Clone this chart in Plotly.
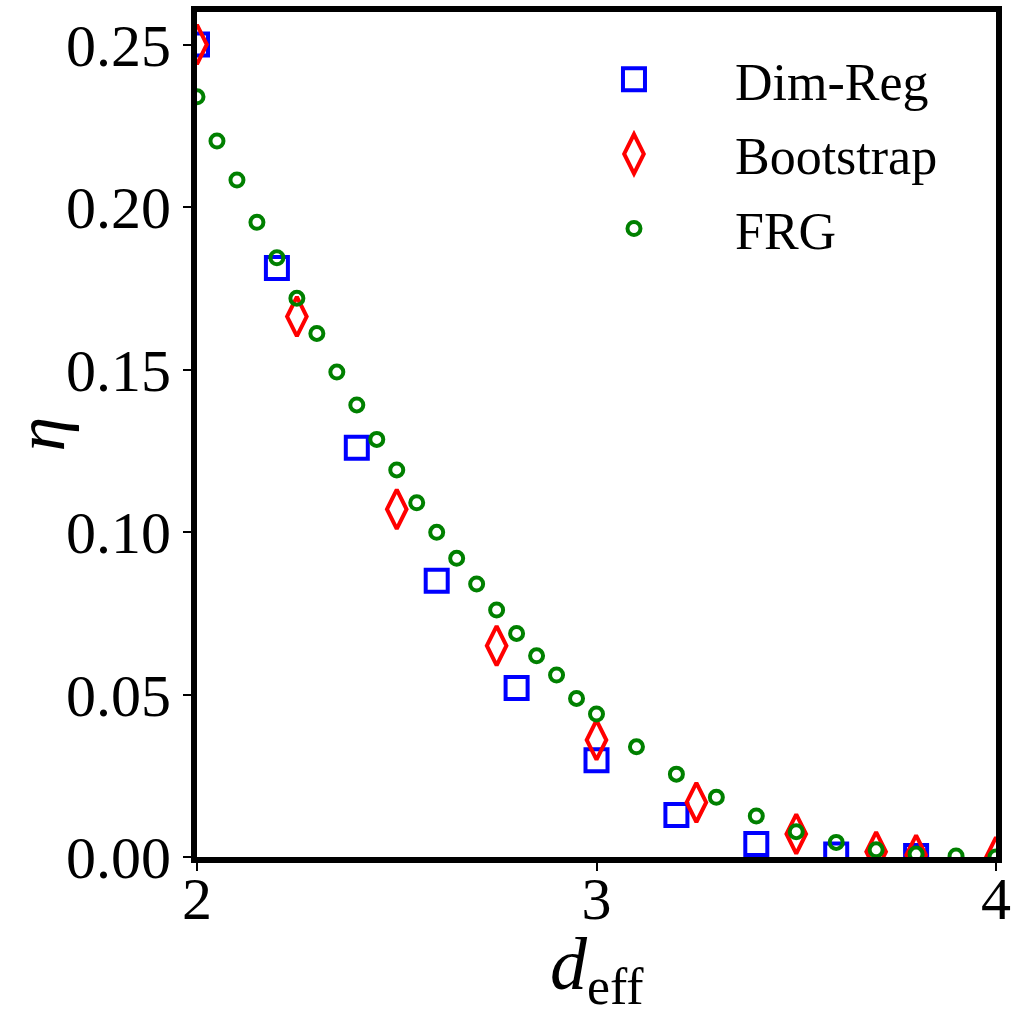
import plotly.graph_objects as go

# ---- data ----
dimreg_x = [2.0, 2.2, 2.4, 2.6, 2.8, 3.0, 3.2, 3.4, 3.6, 3.8]
dimreg_y = [0.250, 0.1812, 0.1259, 0.0850, 0.0520, 0.0298, 0.0129, 0.0040, 0.0008, 0.0003]

boot_x = [2.0, 2.25, 2.5, 2.75, 3.0, 3.25, 3.5, 3.7, 3.8, 4.0]
boot_y = [0.250, 0.1663, 0.1070, 0.0650, 0.0360, 0.0168, 0.0071, 0.0016, 0.0006, 0.0]

frg_x = [2.0, 2.05, 2.1, 2.15, 2.2, 2.25, 2.3, 2.35, 2.4, 2.45, 2.5, 2.55, 2.6, 2.65,
         2.7, 2.75, 2.8, 2.85, 2.9, 2.95, 3.0, 3.1, 3.2, 3.3, 3.4, 3.5, 3.6, 3.7, 3.8,
         3.9, 4.0]
frg_y = [0.2339, 0.2203, 0.2083, 0.1953, 0.1844, 0.1719, 0.1611, 0.1492, 0.1391, 0.1285,
         0.1191, 0.1090, 0.0999, 0.0919, 0.0840, 0.0760, 0.0688, 0.0619, 0.0560, 0.0488,
         0.0440, 0.0339, 0.0255, 0.0184, 0.0126, 0.0078, 0.0045, 0.0022, 0.0009, 0.0003,
         0.0]

x_ticks = [2, 3, 4]
x_ticktext = ["2", "3", "4"]
y_ticks = [0.0, 0.05, 0.10, 0.15, 0.20, 0.25]
y_ticktext = ["0.00", "0.05", "0.10", "0.15", "0.20", "0.25"]

FONT = "Liberation Serif"

fig = go.Figure()
fig.add_trace(go.Scatter(
    x=dimreg_x, y=dimreg_y, mode="markers", name="Dim-Reg", legendgroup="a",
    marker=dict(symbol="square-open", size=22, color="#0000ff",
                line=dict(width=4, color="#0000ff"))))
fig.add_trace(go.Scatter(
    x=boot_x, y=boot_y, mode="markers", name="Bootstrap", legendgroup="b",
    marker=dict(symbol="diamond-tall-open", size=28, color="#ff0000",
                line=dict(width=4, color="#ff0000"))))
fig.add_trace(go.Scatter(
    x=frg_x, y=frg_y, mode="markers", name="FRG", legendgroup="c",
    marker=dict(symbol="circle-open", size=13, color="#008000",
                line=dict(width=4, color="#008000"))))

axis_common = dict(
    showline=True, linewidth=6, linecolor="black", mirror=True,
    ticks="outside", ticklen=8, tickwidth=2, tickcolor="black",
    showgrid=False, zeroline=False, automargin=False,
    tickfont=dict(family=FONT, size=60, color="black"),
)

fig.update_layout(
    width=1012, height=1014,
    margin=dict(l=197, r=16, t=12, b=157),
    paper_bgcolor="white", plot_bgcolor="white",
    xaxis=dict(range=[2, 4], tickvals=x_ticks, ticktext=x_ticktext,
               ticklabelstandoff=-24,
               **axis_common),
    yaxis=dict(range=[0, 0.26], tickvals=y_ticks, ticktext=y_ticktext,
               ticklabelstandoff=0,
               **axis_common),
    legend=dict(x=0.4205, y=0.968, xanchor="left", yanchor="top",
                bgcolor="rgba(0,0,0,0)", borderwidth=0,
                font=dict(family=FONT, size=52, color="black"),
                itemwidth=192, tracegroupgap=4),
    showlegend=True,
    annotations=[
        dict(text="<i>d</i><sub>eff</sub>", xref="paper", yref="paper",
             x=0.5, y=0, xanchor="center", yanchor="middle", yshift=-112,
             height=80, valign="middle",
             showarrow=False, font=dict(family=FONT, size=74, color="black")),
        dict(text="<i>η</i>", xref="paper", yref="paper",
             x=0, y=0.5, xanchor="center", yanchor="middle", xshift=-157,
             textangle=-90, showarrow=False,
             font=dict(family=FONT, size=70, color="black")),
    ],
)

# make legend symbols the same shape/size as the plotted markers
post = """
var gd = document.getElementById('{plot_id}');
var tr = gd.querySelectorAll('.scatterlayer .trace');
var lg = gd.querySelectorAll('.legend .traces');
for (var i = 0; i < lg.length && i < tr.length; i++) {
  var src = tr[i].querySelector('path.point');
  var dst = lg[i].querySelector('path.scatterpts');
  if (src && dst) { dst.setAttribute('d', src.getAttribute('d')); }
}
"""
fig.write_html("out.html", post_script=post)
